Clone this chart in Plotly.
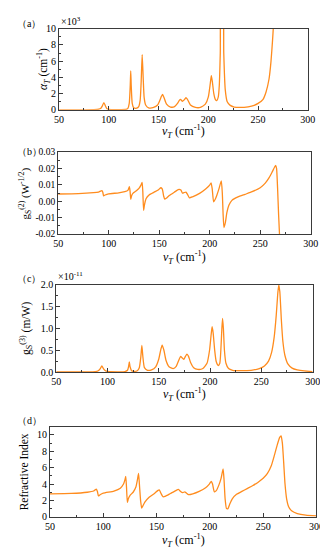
import plotly.graph_objects as go

W, H = 328, 550

# ---------------- data ----------------
# (a) absorption coefficient alpha_T (x10^3 cm^-1)
xa = [50, 70, 85, 90, 92, 93.5, 95, 96.5, 98, 100, 110, 117, 119, 120.5, 121.5, 122, 122.5, 123.5, 125,
      128, 130, 131.5, 132.5, 133.5, 134.5, 135.5, 137, 140, 145, 149, 151, 153, 154, 155.5, 158, 162, 166,
      169, 171, 172, 174, 175.5, 177.5, 179, 182, 187, 192, 197, 200, 202, 203, 204, 205.5, 207, 208.5,
      210, 211, 212, 213, 214.5, 215.5, 217, 219, 222, 226, 232, 240, 246, 250, 255, 258, 261, 263,
      264.5, 265.5, 267]
ya = [0, 0, 0.02, 0.08, 0.2, 0.5, 0.9, 0.5, 0.15, 0.05, 0.03, 0.05, 0.15, 0.8, 3.0, 4.8, 3.0, 0.8, 0.25,
      0.2, 0.4, 1.2, 3.5, 6.8, 4.0, 1.5, 0.6, 0.25, 0.3, 0.6, 1.1, 1.7, 1.9, 1.5, 0.7, 0.35, 0.4,
      0.8, 1.2, 1.3, 1.05, 1.2, 1.5, 1.3, 0.6, 0.3, 0.3, 0.7, 1.6, 3.3, 4.2, 3.5, 2.0, 1.3, 1.15,
      1.6, 3.0, 7.0, 14, 14, 7.0, 2.5, 1.0, 0.55, 0.35, 0.3, 0.38, 0.55, 0.8, 1.3, 2.2, 3.8, 6.0,
      8.5, 10.5, 15]

# (b) second-order gain g_S^(2) (W^-1/2)
xb = [50, 70, 85, 90, 93.3, 94.2, 95, 96.5, 100, 110, 116, 119, 120.5, 121.2, 121.9, 122.8, 124, 127,
      130, 132, 133.1, 133.8, 134.6, 135.5, 137, 140, 145, 149, 151.5, 153, 154.5, 155.5, 157, 160, 165,
      169.5, 171.5, 173, 174.5, 176.5, 178, 180, 183, 190, 196, 200, 201.4, 202.5, 203.9, 205.5, 207,
      209, 211.5, 212.5, 213.3, 214.1, 215.5, 217, 219, 222, 228, 235, 242, 250, 255, 259, 262, 264.3,
      265.3, 266.2, 267.2, 268.2, 269.1, 270]
yb = [0.0044, 0.0046, 0.0052, 0.0056, 0.0064, 0.0055, 0.0033, 0.0038, 0.0045, 0.0051, 0.0058, 0.0066,
      0.0088, 0.006, 0.0012, 0.0035, 0.0048, 0.0062, 0.0078, 0.0098, 0.0114, 0.006, -0.0056, -0.002,
      0.0015, 0.0038, 0.0055, 0.0068, 0.0082, 0.0075, 0.003, 0.0013, 0.0018, 0.0035, 0.0055, 0.0072,
      0.0068, 0.0049, 0.0052, 0.0056, 0.0042, 0.0021, 0.0027, 0.0048, 0.0075, 0.0098, 0.0112, 0.0075,
      -0.0004, 0.0012, 0.0035, 0.0072, 0.0124, 0.005, -0.008, -0.016, -0.013, -0.007, -0.0025, 0.0005,
      0.0026, 0.0042, 0.0058, 0.0082, 0.011, 0.0145, 0.018, 0.0208, 0.0218, 0.02, 0.008, -0.008, -0.02,
      -0.035]

# (c) third-order gain g_S^(3) (x10^-11 m/W)
xc = [50, 80, 88, 91, 93, 94.5, 96, 98, 100, 110, 117, 119.5, 120.5, 121.3, 122, 123.5, 126, 129, 131,
      132.5, 133.5, 134.5, 136, 139, 143, 147, 150, 152, 153.3, 155, 157, 160, 164, 167, 169.5, 171.3,
      173, 174.5, 176, 177.5, 179, 181, 184, 188, 193, 197, 199.5, 201, 202, 203, 204.5, 206, 208,
      209.5, 210.5, 211.5, 212.2, 213, 214, 215.5, 218, 222, 230, 240, 248, 253, 257, 260, 262.5, 264.5,
      266, 267, 268, 269.5, 271, 273, 276, 280, 285, 292, 300]
yc = [0, 0.003, 0.01, 0.03, 0.08, 0.14, 0.08, 0.03, 0.015, 0.005, 0.01, 0.04, 0.12, 0.23, 0.12, 0.03,
      0.015, 0.03, 0.1, 0.35, 0.61, 0.35, 0.1, 0.04, 0.05, 0.12, 0.3, 0.52, 0.62, 0.5, 0.27, 0.12, 0.08,
      0.13, 0.27, 0.36, 0.32, 0.29, 0.36, 0.41, 0.36, 0.22, 0.1, 0.06, 0.08, 0.2, 0.5, 0.85, 1.04, 0.9,
      0.5, 0.24, 0.15, 0.2, 0.5, 1.0, 1.23, 1.0, 0.5, 0.2, 0.08, 0.04, 0.03, 0.04, 0.08, 0.14, 0.25,
      0.45, 0.8, 1.3, 1.8, 2.0, 1.85, 1.2, 0.7, 0.38, 0.18, 0.09, 0.05, 0.025, 0.01]

# (d) refractive index
xd = [50, 70, 85, 91, 93.5, 94.5, 95.5, 97, 100, 110, 116, 119, 120.5, 121.1, 121.8, 122.6, 123.5, 125,
      128, 130.5, 132, 133.1, 134, 135, 136, 137, 139, 143, 148, 151, 152.5, 154, 156, 158, 163, 168,
      170.5, 172.5, 174.5, 176.5, 178, 180, 184, 190, 196, 199.5, 201.3, 202.5, 204.2, 206, 208.5, 210.5,
      212.4, 213.3, 214.3, 215.6, 217, 218.5, 221, 225, 230, 235, 240, 245, 250, 254, 257.5, 260.5, 263,
      265.5, 266.8, 268, 269.3, 270.5, 272, 274, 277, 282, 290, 300]
yd = [2.8, 2.85, 3.0, 3.15, 3.38, 3.1, 2.55, 2.7, 2.9, 3.15, 3.5, 4.0, 4.6, 4.94, 3.6, 1.75, 2.2, 2.6,
      3.0, 3.6, 4.5, 5.3, 3.8, 2.0, 1.05, 1.3, 1.8, 2.4, 2.85, 3.2, 3.3, 2.9, 2.45, 2.5, 2.85, 3.2,
      3.35, 3.1, 2.95, 3.05, 2.9, 2.7, 2.8, 3.1, 3.55, 4.0, 4.34, 4.0, 3.05, 3.2, 3.9, 4.7,
      5.85, 4.5, 2.2, 1.0, 1.0, 1.5, 2.2, 2.75, 3.1, 3.45, 3.8, 4.2, 4.7, 5.3, 6.2, 7.5, 8.7,
      9.7, 9.9, 9.0, 6.5, 4.0, 2.2, 1.2, 0.7, 0.4, 0.2, 0.1]

x_ticks = [50, 100, 150, 200, 250, 300]
ya_ticks = [0, 2, 4, 6, 8, 10]
yb_ticks = [-0.02, -0.01, 0.0, 0.01, 0.02, 0.03]
yb_text = ["-0.02", "-0.01", "0.00", "0.01", "0.02", "0.03"]
yc_ticks = [0.0, 0.5, 1.0, 1.5, 2.0]
yc_text = ["0.0", "0.5", "1.0", "1.5", "2.0"]
yd_ticks = [0, 2, 4, 6, 8, 10]

# ---------------- layout helpers ----------------
LINE = "#FF8C1E"
AX = "#3a3a3a"
FONT = "Liberation Serif"

# pixel boxes: (left, right, top, bottom)
boxes = [(48, 307, 15, 98), (47, 310, 141, 225), (45, 312, 277, 366), (38.5, 316, 422, 514)]
yranges = [[0, 10], [-0.02, 0.03], [0, 2.0], [0, 11]]
ytick_sets = [(ya_ticks, [str(v) for v in ya_ticks], 1), (yb_ticks, yb_text, 0.005),
              (yc_ticks, yc_text, 0.25), (yd_ticks, [str(v) for v in yd_ticks], 1)]
ytick_size = [10, 9.5, 10, 10]
data = [(xa, ya), (xb, yb), (xc, yc), (xd, yd)]

fig = go.Figure()
layout = dict(width=W, height=H, margin=dict(l=0, r=0, t=0, b=0),
              paper_bgcolor="white", plot_bgcolor="white", showlegend=False,
              font=dict(family=FONT, size=10, color="black"))

for i, ((l, r, t, b), (xs, ys)) in enumerate(zip(boxes, data)):
    n = "" if i == 0 else str(i + 1)
    fig.add_trace(go.Scatter(x=xs, y=ys, mode="lines", line=dict(color=LINE, width=1.3, shape="spline", smoothing=0.5),
                             xaxis="x" + n, yaxis="y" + n, hoverinfo="skip"))
    tv, tt, mdt = ytick_sets[i]
    layout["xaxis" + n] = dict(domain=[l / W, r / W], anchor="y" + n, range=[50, 300],
                               tickvals=x_ticks, ticktext=[str(v) for v in x_ticks],
                               ticks="inside", ticklen=4, tickcolor=AX, tickwidth=1,
                               minor=dict(ticks="inside", ticklen=2, dtick=25, tick0=50, tickcolor=AX),
                               showline=True, linecolor=AX, linewidth=1, mirror=True,
                               showgrid=False, zeroline=False, tickfont=dict(size=10),
                               ticklabeloverflow="allow")
    layout["yaxis" + n] = dict(domain=[1 - b / H, 1 - t / H], anchor="x" + n, range=yranges[i],
                               tickvals=tv, ticktext=tt,
                               ticks="inside", ticklen=4, tickcolor=AX, tickwidth=1,
                               minor=dict(ticks="inside", ticklen=2, dtick=mdt, tick0=tv[0], tickcolor=AX),
                               showline=True, linecolor=AX, linewidth=1, mirror=True,
                               showgrid=False, zeroline=False, tickfont=dict(size=ytick_size[i]))

fig.update_layout(**layout)

xtitle = "<i>ν</i><sub><i>T</i></sub> (cm<sup>-1</sup>)"
ytitles = ["<i>α</i><sub><i>T</i></sub> (cm<sup>-1</sup>)",
           "g<sub>S</sub><sup>(2)</sup> (W<sup>-1/2</sup>)",
           "g<sub>S</sub><sup>(3)</sup> (m/W)",
           "Refractive Index"]
ytitle_x = [32, 13, 14, 11]
ytitle_size = [11.5, 11, 11.5, 11.5]
xtitle_y = [120, 249, 389, 538]
labels = ["（a）", "（b）", "（c）", "（d）"]
label_y = [10, 141, 270, 416]

ann = []
for i, (l, r, t, b) in enumerate(boxes):
    ann.append(dict(x=(l + r) / 2 / W, y=1 - xtitle_y[i] / H, xref="paper", yref="paper",
                    text=xtitle, showarrow=False, font=dict(size=12, family=FONT), xanchor="center", yanchor="middle"))
    ann.append(dict(x=ytitle_x[i] / W, y=1 - (t + b) / 2 / H, xref="paper", yref="paper",
                    text=ytitles[i], showarrow=False, textangle=-90, font=dict(size=ytitle_size[i], family=FONT),
                    xanchor="center", yanchor="middle"))
    ann.append(dict(x=2 / W, y=1 - label_y[i] / H, xref="paper", yref="paper",
                    text=labels[i], showarrow=False, font=dict(size=10, family=FONT),
                    xanchor="left", yanchor="middle"))
ann.append(dict(x=48 / W, y=1 - 7 / H, xref="paper", yref="paper", text="×10<sup>3</sup>",
                showarrow=False, font=dict(size=10, family=FONT), xanchor="left", yanchor="middle"))
ann.append(dict(x=45 / W, y=1 - 268 / H, xref="paper", yref="paper", text="×10<sup>-11</sup>",
                showarrow=False, font=dict(size=10, family=FONT), xanchor="left", yanchor="middle"))
fig.update_layout(annotations=ann)

fig.write_html("out.html")
